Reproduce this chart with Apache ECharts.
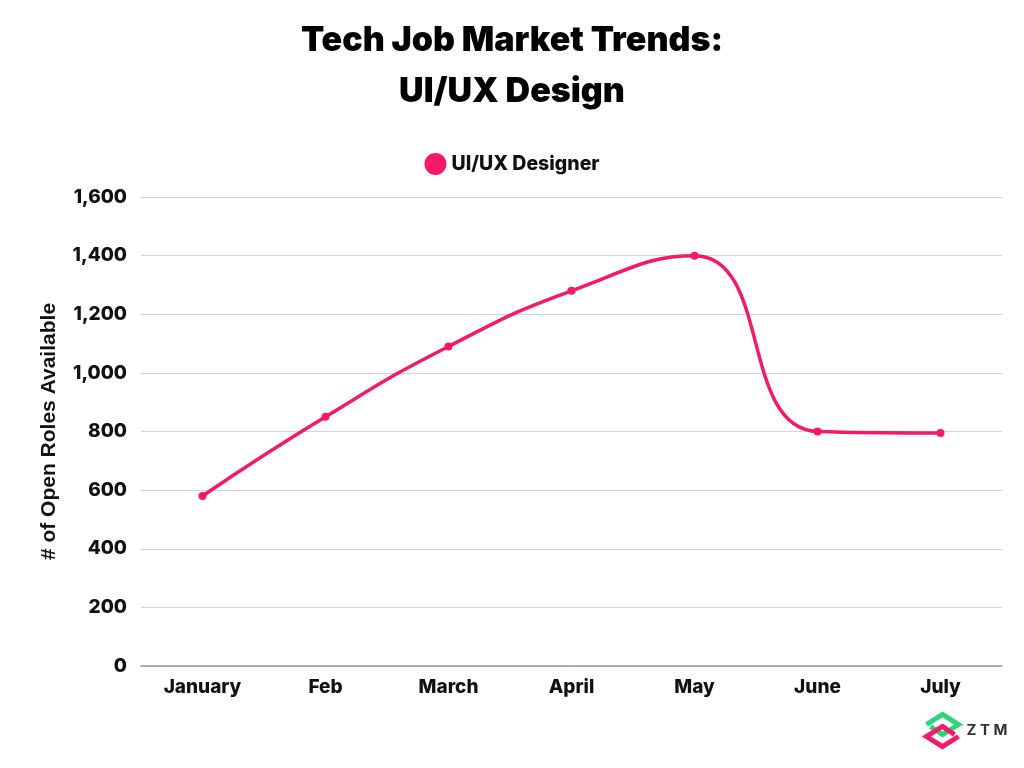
<!DOCTYPE html>
<html>
<head>
<meta charset="utf-8">
<script src="https://cdn.jsdelivr.net/npm/echarts@6/dist/echarts.min.js"></script>
<style>
html,body{margin:0;padding:0;background:#fff;}
#chart{width:1024px;height:768px;}
</style>
</head>
<body>
<div id="chart"></div>
<script>
const months = ['January', 'Feb', 'March', 'April', 'May', 'June', 'July'];
const uiuxDesigner = [580, 850, 1090, 1280, 1400, 800, 795];
const yTicks = [0, 200, 400, 600, 800, 1000, 1200, 1400, 1600];

const pink = '#F5196A';
const chart = echarts.init(document.getElementById('chart'));
chart.setOption({
  backgroundColor: '#ffffff',
  title: {
    text: 'Tech Job Market Trends:\nUI/UX Design',
    left: 'center',
    top: 10,
    textStyle: {
      fontFamily: 'Inter',
      fontWeight: 900,
      fontSize: 34,
      lineHeight: 51,
      color: '#000'
    }
  },
  legend: {
    top: 148,
    left: 'center',
    icon: 'circle',
    itemWidth: 22,
    itemHeight: 22,
    itemGap: 10,
    textStyle: {fontFamily: 'Inter', fontWeight: 800, fontSize: 19.5, color: '#111'},
    data: ['UI/UX Designer']
  },
  grid: {left: 141, right: 22, top: 197, bottom: 102},
  xAxis: {
    type: 'category',
    data: months,
    boundaryGap: true,
    axisLine: {show: true, lineStyle: {color: '#999', width: 1.5}},
    axisTick: {show: false},
    axisLabel: {fontFamily: 'Inter', fontWeight: 800, fontSize: 19, color: '#111', margin: 12}
  },
  yAxis: {
    type: 'value',
    min: yTicks[0],
    max: yTicks[yTicks.length - 1],
    interval: 200,
    name: '# of Open Roles Available',
    nameLocation: 'middle',
    nameGap: 81,
    nameRotate: 90,
    nameTextStyle: {fontFamily: 'Liberation Sans', fontWeight: 'bold', fontSize: 21, color: '#111'},
    axisLine: {show: false},
    axisTick: {show: false},
    splitLine: {lineStyle: {color: '#d4d4d4', width: 1}},
    axisLabel: {
      fontFamily: 'Inter', fontWeight: 800, fontSize: 19, color: '#111', margin: 14,
      formatter: v => v.toLocaleString('en-US')
    }
  },
  series: [{
    name: 'UI/UX Designer',
    type: 'line',
    data: uiuxDesigner,
    smooth: 0.5,
    symbol: 'circle',
    symbolSize: 8,
    itemStyle: {color: pink},
    lineStyle: {color: pink, width: 3.5}
  }],
  graphic: [{
    type: 'group',
    left: 924,
    top: 712,
    children: [
      {type: 'polyline', shape: {points: [[2,14],[18,4],[34,14],[18,24],[6,16]]}, style: {stroke: '#2ED47A', lineWidth: 5, fill: null}},
      {type: 'polyline', shape: {points: [[34,16],[18,26],[2,16],[18,6],[30,14]]}, position: [0, 10], style: {stroke: '#F5196A', lineWidth: 5, fill: null}},
      {type: 'text', left: 42, top: 12, style: {text: 'Z T M', fontFamily: 'Inter', fontWeight: 'bold', fontSize: 15, fill: '#333'}}
    ]
  }]
});
</script>
</body>
</html>
